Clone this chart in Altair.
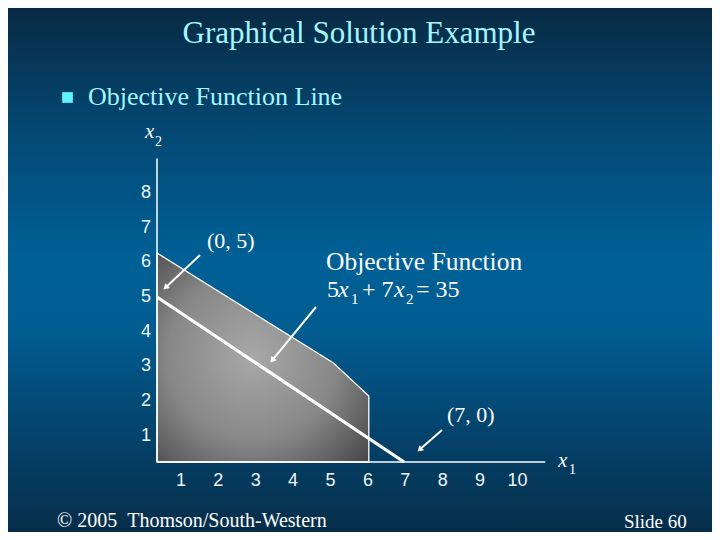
import altair as alt
import pandas as pd
import math

# ---------------- data ----------------
x_ticks = [1, 2, 3, 4, 5, 6, 7, 8, 9, 10]
y_ticks = [1, 2, 3, 4, 5, 6, 7, 8]
# feasible region upper boundary (x1, x2)
region_x1 = [0, 5, 6]
region_x2 = [19 / 3, 3, 2]
# objective function line 5x1 + 7x2 = 35
obj_x1 = [0, 7]
obj_x2 = [5, 0]
# axis extents (data units)
x_axis_end = 11.0
y_axis_end = 9.2

# ---------------- layout ----------------
W, H = 704, 524
M = 8                      # page margin
X0, SX = 157 - M, 35.3     # pixel of x1=0, px per unit
Y0, SY = 462 - M, 33.0     # pixel of x2=0, px per unit
xs = alt.Scale(domain=[-X0 / SX, (W - X0) / SX], nice=False, zero=False)
ys = alt.Scale(domain=[(Y0 - H) / SY, Y0 / SY], nice=False, zero=False)
# tick labels on the slide sit on their own (slightly wider) grid
LX0, LSX = 143.5 - M, 37.4
LY0, LSY = 470.5 - M, 34.7
lxs = alt.Scale(domain=[-LX0 / LSX, (W - LX0) / LSX], nice=False, zero=False)
lys = alt.Scale(domain=[(LY0 - H) / LSY, LY0 / LSY], nice=False, zero=False)

SERIF = "Liberation Serif"
SANS = "Liberation Sans"
CYAN = "#a4f6ff"
WHITE = "#ffffff"

one = pd.DataFrame({"k": [0]})

bg = alt.Chart(one).mark_rect(
    color={"gradient": "linear", "x1": 0, "y1": 0, "x2": 0, "y2": 1,
           "stops": [{"offset": 0, "color": "#082a44"},
                     {"offset": 0.25, "color": "#034a76"},
                     {"offset": 0.48, "color": "#006096"},
                     {"offset": 0.62, "color": "#015c90"},
                     {"offset": 0.85, "color": "#043e64"},
                     {"offset": 1, "color": "#062e4a"}]}
).encode(x=alt.value(0), x2=alt.value(W), y=alt.value(0), y2=alt.value(H))

region_df = pd.DataFrame({"x1": region_x1, "x2": region_x2})
region = alt.Chart(region_df).mark_area(
    color={"gradient": "radial", "x1": 0.45, "y1": 0.5, "x2": 0.45, "y2": 0.5,
           "r1": 0, "r2": 0.8,
           "stops": [{"offset": 0, "color": "#a8a8a8"},
                     {"offset": 0.5, "color": "#878787"},
                     {"offset": 1, "color": "#3a3a3a"}]},
    stroke=WHITE, strokeWidth=1.3, interpolate="linear"
).encode(x=alt.X("x1:Q", scale=xs, axis=None),
         y=alt.Y("x2:Q", scale=ys, axis=None),
         y2=alt.datum(0))

axes_df = pd.DataFrame({"xa": [0, 0], "xb": [x_axis_end, 0],
                        "ya": [0, 0], "yb": [0, y_axis_end]})
axes = alt.Chart(axes_df).mark_rule(color=WHITE, strokeWidth=1.5).encode(
    x=alt.X("xa:Q", scale=xs, axis=None), x2="xb:Q",
    y=alt.Y("ya:Q", scale=ys, axis=None), y2="yb:Q")

obj_df = pd.DataFrame({"x1": obj_x1, "x2": obj_x2})
obj = alt.Chart(obj_df).mark_line(color=WHITE, strokeWidth=3.2).encode(
    x=alt.X("x1:Q", scale=xs, axis=None), y=alt.Y("x2:Q", scale=ys, axis=None))

xt = alt.Chart(pd.DataFrame({"v": x_ticks})).mark_text(
    font=SANS, fontSize=18, color="#eef8ff", baseline="middle", align="center"
).encode(x=alt.X("v:Q", scale=lxs, axis=None), y=alt.value(481 - M), text="v:Q")
yt = alt.Chart(pd.DataFrame({"v": y_ticks})).mark_text(
    font=SANS, fontSize=18, color="#eef8ff", baseline="middle", align="right"
).encode(y=alt.Y("v:Q", scale=lys, axis=None), x=alt.value(151 - M), text="v:Q")


def txt(s, x, y, size, color=WHITE, font=SERIF, style="normal", align="left"):
    return alt.Chart(one).mark_text(
        text=s, font=font, fontSize=size, color=color, fontStyle=style,
        align=align, baseline="alphabetic"
    ).encode(x=alt.value(x - M), y=alt.value(y - M))


texts = [
    txt("Graphical Solution Example", 359, 43, 31, CYAN, align="center"),
    txt("Objective Function Line", 88, 105, 26, CYAN),
    txt("x", 145, 138, 21, style="italic"),
    txt("2", 155, 146, 14),
    txt("x", 558, 467, 21, style="italic"),
    txt("1", 569, 474, 14),
    txt("(0, 5)", 207, 248, 22),
    txt("Objective Function", 326, 270, 25.5),
    txt("5", 327, 297, 24),
    txt("x", 338, 297, 24, style="italic"),
    txt("1", 351, 304, 15),
    txt("+ 7", 362, 297, 24),
    txt("x", 394, 297, 24, style="italic"),
    txt("2", 406, 304, 15),
    txt("= 35", 416, 297, 24),
    txt("(7, 0)", 447, 422, 22),
    txt("\u00a9\u00a02005\u00a0\u00a0Thomson/South-Western", 57, 527, 20),
    txt("Slide 60", 624, 528, 19),
]

bullet = alt.Chart(one).mark_square(size=115, color="#5ef4ff", opacity=1).encode(
    x=alt.value(67.5 - M), y=alt.value(97.5 - M))

# annotation arrows (page pixels): start -> tip
arrows = [((200, 255), (163, 290)), ((316, 307), (270, 363)), ((442, 430), (417, 452))]
arrow_layers = []
for (sx, sy), (tx, ty) in arrows:
    dx, dy = tx - sx, ty - sy
    L = math.hypot(dx, dy)
    ux, uy = dx / L, dy / L
    ang = math.degrees(math.atan2(dx, -dy)) % 360
    arrow_layers.append(alt.Chart(one).mark_rule(color=WHITE, strokeWidth=2).encode(
        x=alt.value(sx - M), y=alt.value(sy - M),
        x2=alt.value(tx - 4 * ux - M), y2=alt.value(ty - 4 * uy - M)))
    arrow_layers.append(alt.Chart(one).mark_point(
        shape="triangle-up", filled=True, size=45, color=WHITE, opacity=1,
        angle=ang).encode(x=alt.value(tx - 3.5 * ux - M), y=alt.value(ty - 3.5 * uy - M)))

chart = alt.layer(bg, region, obj, axes, xt, yt, bullet, *arrow_layers, *texts).resolve_scale(
    x="independent", y="independent"
).properties(
    width=W, height=H, padding=0, autosize=alt.AutoSizeParams(type="none")
).configure_view(stroke=None).configure(background="#062e4a")

chart.save("out.html", embed_options={"renderer": "svg", "actions": False})
